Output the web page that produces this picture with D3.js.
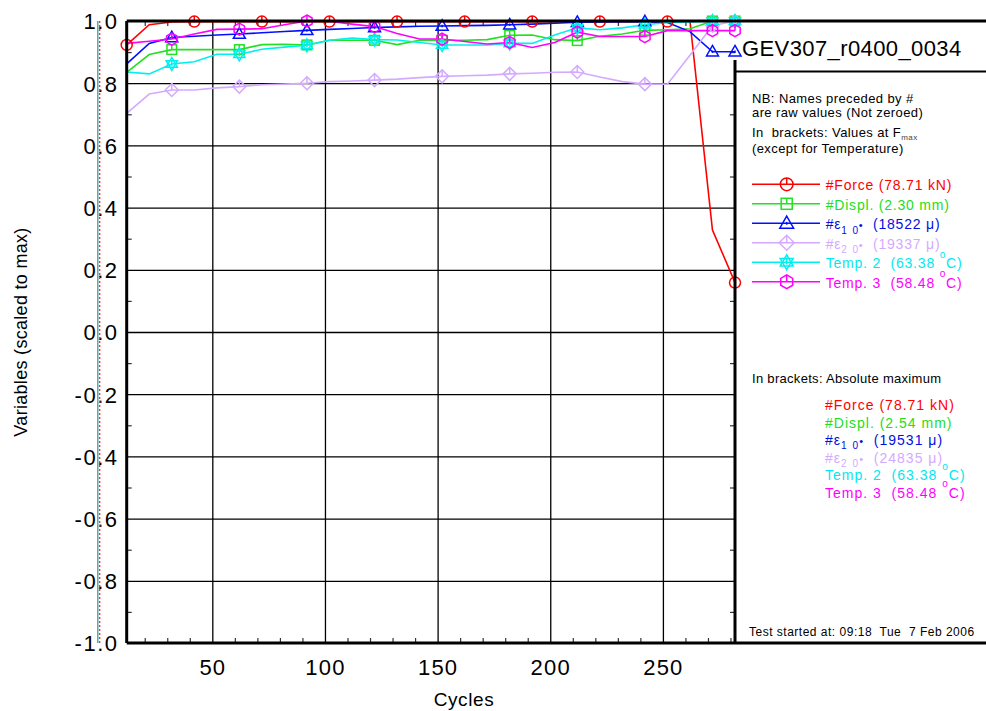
<!DOCTYPE html>
<html>
<head>
<meta charset="utf-8">
<script src="https://cdn.jsdelivr.net/npm/d3@7"></script>
<style>
  html, body { margin: 0; padding: 0; background: #fff; }
  svg { display: block; font-family: "Liberation Sans", Arial, sans-serif; }
  text { white-space: pre; }
</style>
</head>
<body>
<svg id="chart" width="986" height="711"></svg>
<script>
// ---- data: one reading every 10 cycles, each channel scaled to its maximum ----
const cycles  = [12,22,32,42,52,62,72,82,92,102,112,122,132,142,152,162,172,182,192,202,212,222,232,242,252,262,272,282];
const force   = [0.923,0.988,0.997,0.998,0.998,0.998,0.998,0.998,0.998,0.998,0.998,0.998,0.998,0.998,0.998,0.998,0.998,0.998,0.998,0.998,0.998,0.998,0.998,0.998,0.998,1.000,0.328,0.159];
const displ   = [0.835,0.892,0.908,0.908,0.908,0.908,0.924,0.925,0.923,0.938,0.938,0.938,0.924,0.938,0.938,0.938,0.940,0.954,0.955,0.940,0.937,0.951,0.958,0.970,0.972,0.975,1.000,1.000];
const strain1 = [0.862,0.928,0.947,0.951,0.955,0.958,0.962,0.966,0.970,0.973,0.976,0.979,0.981,0.983,0.984,0.985,0.986,0.988,0.990,0.993,0.996,0.997,0.998,0.998,0.995,0.966,0.901,0.901];
const strain2 = [0.703,0.765,0.778,0.778,0.785,0.789,0.795,0.797,0.800,0.805,0.807,0.810,0.813,0.818,0.822,0.824,0.826,0.830,0.832,0.835,0.836,0.820,0.805,0.797,0.797,0.890,0.985,1.000];
const temp2   = [0.836,0.830,0.862,0.869,0.893,0.893,0.909,0.916,0.922,0.938,0.945,0.940,0.939,0.931,0.923,0.923,0.923,0.928,0.928,0.955,0.978,0.972,0.978,0.988,0.995,0.997,1.000,1.000];
const temp3   = [0.928,0.935,0.942,0.958,0.973,0.974,0.975,0.988,1.000,0.999,0.990,0.982,0.960,0.942,0.942,0.934,0.926,0.931,0.915,0.931,0.964,0.950,0.950,0.950,0.969,0.969,0.969,0.969];

// cycles that carry a symbol
const forceMarkCycles = [12,42,72,102,132,162,192,222,252,282];
const otherMarkCycles = [32,62,92,122,152,182,212,242,272,282];

// axis ticks
const xTicks = [50,100,150,200,250];
const yTicks = [-1.0,-0.8,-0.6,-0.4,-0.2,0.0,0.2,0.4,0.6,0.8,1.0];
const xMinorTicks = [20,30,40,60,70,80,90,110,120,130,140,160,170,180,190,210,220,230,240,260,270,280];
const yMinorTicks = [-0.9,-0.7,-0.5,-0.3,-0.1,0.1,0.3,0.5,0.7,0.9];

// reference lines left of the first reading
const zeroCycle = 0;
const startCycle = -0.8;

// legend texts
const testName = "GEV307_r0400_0034";
const noteLines = ["NB: Names preceded by #", "are raw values (Not zeroed)"];
const fmaxNote = "(except for Temperature)";
const absNote = "In brackets: Absolute maximum";
const startedText = "Test started at: 09:18  Tue  7 Feb 2006";

const labelsAtFmax = [
  [{t:"#Force (78.71 kN)"}],
  [{t:"#Displ. (2.30 mm)"}],
  [{t:"#ε"},{t:"1",sub:true},{t:" "},{t:"0",sub:true},{t:"•",dot:true},{t:"  (18522 μ)"}],
  [{t:"#ε"},{t:"2",sub:true},{t:" "},{t:"0",sub:true},{t:"•",dot:true},{t:"  (19337 μ)"}],
  [{t:"Temp. 2  (63.38 "},{t:"o",sup:true},{t:"C)"}],
  [{t:"Temp. 3  (58.48 "},{t:"o",sup:true},{t:"C)"}]
];
const labelsAbsMax = [
  [{t:"#Force (78.71 kN)"}],
  [{t:"#Displ. (2.54 mm)"}],
  [{t:"#ε"},{t:"1",sub:true},{t:" "},{t:"0",sub:true},{t:"•",dot:true},{t:"  (19531 μ)"}],
  [{t:"#ε"},{t:"2",sub:true},{t:" "},{t:"0",sub:true},{t:"•",dot:true},{t:"  (24835 μ)"}],
  [{t:"Temp. 2  (63.38 "},{t:"o",sup:true},{t:"C)"}],
  [{t:"Temp. 3  (58.48 "},{t:"o",sup:true},{t:"C)"}]
];

const series = [
  {values: force,   color: "#ff0000", text: "#ff0000", symbol: "circle",   marks: forceMarkCycles},
  {values: displ,   color: "#22e022", text: "#22dd22", symbol: "square",   marks: otherMarkCycles},
  {values: strain1, color: "#0010ff", text: "#0010e0", symbol: "triangle", marks: otherMarkCycles},
  {values: strain2, color: "#d4aaff", text: "#d4aaff", symbol: "diamond",  marks: otherMarkCycles},
  {values: temp2,   color: "#00f0f0", text: "#00e8f0", symbol: "star",     marks: otherMarkCycles},
  {values: temp3,   color: "#ff00ff", text: "#ff00ff", symbol: "hexagon",  marks: otherMarkCycles}
];

// ---- layout ----
const plot = {left: 126.7, right: 735, top: 21, bottom: 643};
const boxRight = 986;
const svg = d3.select("#chart");

const x = d3.scaleLinear().domain(d3.extent(cycles)).range([plot.left, plot.right]);
const y = d3.scaleLinear().domain([-1, 1]).range([plot.bottom, plot.top]);

// grid lines
svg.append("g")
  .attr("transform", `translate(0,${plot.bottom})`)
  .call(d3.axisBottom(x).tickValues(xTicks).tickSize(-(plot.bottom - plot.top)).tickFormat(""))
  .call(g => g.select(".domain").remove())
  .selectAll("line").attr("stroke", "#000").attr("stroke-width", 1.3);
svg.append("g")
  .attr("transform", `translate(${plot.left},0)`)
  .call(d3.axisLeft(y).tickValues(yTicks.slice(1, -1)).tickSize(-(plot.right - plot.left)).tickFormat(""))
  .call(g => g.select(".domain").remove())
  .selectAll("line").attr("stroke", "#000").attr("stroke-width", 1.3);

// minor ticks on all four sides, pointing inwards
function minor(axis, tx, ty) {
  svg.append("g").attr("transform", `translate(${tx},${ty})`)
    .call(axis.tickSize(-5).tickFormat(""))
    .call(g => g.select(".domain").remove())
    .selectAll("line").attr("stroke", "#333").attr("stroke-width", 1.2);
}
minor(d3.axisBottom(x).tickValues(xMinorTicks), 0, plot.bottom);
minor(d3.axisTop(x).tickValues(xMinorTicks), 0, plot.top);
minor(d3.axisLeft(y).tickValues(yMinorTicks), plot.left, 0);
minor(d3.axisRight(y).tickValues(yMinorTicks), plot.right, 0);

// tick labels
const fmt = d => d.toFixed(1);
svg.append("g").attr("transform", `translate(118.5,0)`)
  .call(d3.axisLeft(y).tickValues(yTicks).tickSize(0).tickPadding(0).tickFormat(fmt))
  .call(g => g.select(".domain").remove())
  .selectAll("text")
  .attr("font-family", '"Liberation Sans", Arial, sans-serif')
  .attr("font-size", 22).attr("letter-spacing", "1.5px").attr("fill", "#000").attr("dy", "0.36em");
svg.append("g").attr("transform", `translate(0,${plot.bottom})`)
  .call(d3.axisBottom(x).tickValues(xTicks).tickSize(0).tickPadding(16.5))
  .call(g => g.select(".domain").remove())
  .selectAll("text")
  .attr("font-family", '"Liberation Sans", Arial, sans-serif')
  .attr("font-size", 22).attr("letter-spacing", "1.2px").attr("fill", "#000");

// reference lines before the first cycle
svg.append("line")
  .attr("x1", x(startCycle)).attr("x2", x(startCycle))
  .attr("y1", plot.top).attr("y2", plot.bottom)
  .attr("stroke", "#008080").attr("stroke-width", 1);
svg.append("line")
  .attr("x1", x(zeroCycle)).attr("x2", x(zeroCycle))
  .attr("y1", plot.top).attr("y2", plot.bottom)
  .attr("stroke", "#ff3030").attr("stroke-width", 1.4).attr("stroke-dasharray", "2,2");

// axis titles
svg.append("text").attr("x", 464).attr("y", 706)
  .attr("text-anchor", "middle").attr("font-size", 19).attr("letter-spacing", "0.6px").text("Cycles");
svg.append("text").attr("transform", "translate(27,332) rotate(-90)")
  .attr("text-anchor", "middle").attr("font-size", 18).attr("letter-spacing", "0.3px")
  .text("Variables (scaled to max)");

// symbol painter
function drawSymbol(g, type, cx, cy, s, color) {
  const k = g.append("g").attr("fill", "none").attr("stroke", color).attr("stroke-width", 1.5);
  const r = 5.5 * s;
  if (type === "circle") {
    k.append("circle").attr("cx", cx).attr("cy", cy).attr("r", r);
    k.append("line").attr("x1", cx).attr("x2", cx).attr("y1", cy - r).attr("y2", cy);
  } else if (type === "square") {
    const h = 4.8 * s;
    k.append("rect").attr("x", cx - h).attr("y", cy - h).attr("width", 2 * h).attr("height", 2 * h);
    k.append("line").attr("x1", cx).attr("x2", cx).attr("y1", cy - h).attr("y2", cy);
  } else if (type === "triangle") {
    const a = 6 * s;
    k.append("path").attr("d", `M${cx},${cy - a * 1.05}L${cx + a},${cy + a * 0.7}L${cx - a},${cy + a * 0.7}Z`);
    k.append("line").attr("x1", cx).attr("x2", cx).attr("y1", cy - a * 0.2).attr("y2", cy + a * 0.2);
  } else if (type === "diamond") {
    const a = 6.5 * s;
    k.append("path").attr("d", `M${cx},${cy - a}L${cx + a},${cy}L${cx},${cy + a}L${cx - a},${cy}Z`);
    k.append("line").attr("x1", cx).attr("x2", cx).attr("y1", cy - a).attr("y2", cy);
  } else if (type === "star") {
    const a = 6.5 * s;
    const tri = off => d3.range(3).map(i => {
      const ang = off + i * 2 * Math.PI / 3;
      return [cx + a * Math.sin(ang), cy - a * Math.cos(ang)];
    });
    k.append("path").attr("d", "M" + tri(0).join("L") + "Z");
    k.append("path").attr("d", "M" + tri(Math.PI).join("L") + "Z");
    k.append("line").attr("x1", cx).attr("x2", cx).attr("y1", cy - a * 0.45).attr("y2", cy + a * 0.3);
  } else if (type === "hexagon") {
    const a = 6 * s;
    const pts = d3.range(6).map(i => {
      const ang = i * Math.PI / 3;
      return [cx + a * Math.sin(ang), cy - a * Math.cos(ang)];
    });
    k.append("path").attr("d", "M" + pts.join("L") + "Z");
    k.append("line").attr("x1", cx).attr("x2", cx).attr("y1", cy - a).attr("y2", cy);
  }
}

// data lines and symbols
const line = d3.line().x((d, i) => x(cycles[i])).y(d => y(d));
const dataLayer = svg.append("g");
series.forEach(s => {
  dataLayer.append("path").datum(s.values)
    .attr("d", line).attr("fill", "none").attr("stroke", s.color).attr("stroke-width", 1.6);
});
series.forEach(s => {
  s.marks.forEach(c => {
    const i = cycles.indexOf(c);
    drawSymbol(dataLayer, s.symbol, x(c), y(s.values[i]), 1, s.color);
  });
});

// frame
const frame = svg.append("g").attr("stroke", "#000").attr("stroke-width", 3);
frame.append("line").attr("x1", plot.left).attr("x2", boxRight).attr("y1", plot.top).attr("y2", plot.top);
frame.append("line").attr("x1", plot.left).attr("x2", boxRight).attr("y1", plot.bottom).attr("y2", plot.bottom);
frame.append("line").attr("x1", plot.left).attr("x2", plot.left).attr("y1", plot.top).attr("y2", plot.bottom);
frame.append("line").attr("x1", plot.right).attr("x2", plot.right).attr("y1", 60).attr("y2", plot.bottom);
frame.append("line").attr("x1", plot.right).attr("x2", boxRight).attr("y1", 71.5).attr("y2", 71.5)
  .attr("stroke-width", 2);

// title of the record
svg.append("text").attr("x", 742).attr("y", 56).attr("font-size", 22).attr("letter-spacing", "0.4px")
  .text(testName);

// rich text helper (subscripts, raised degree sign)
function richText(g, px, py, segs, color, size, ls) {
  const t = g.append("text").attr("x", px).attr("y", py).attr("fill", color)
    .attr("font-size", size).attr("letter-spacing", ls + "px");
  let shift = 0;
  segs.forEach(sg => {
    let target = 0, fs = size;
    if (sg.sub) { target = 0.3 * size; fs = size * 0.72; }
    if (sg.sup) { target = -0.75 * size; fs = size * 0.72; }
    if (sg.dot) { target = 0; fs = size * 0.8; }
    t.append("tspan").attr("dy", target - shift).attr("font-size", fs).text(sg.t);
    shift = target;
  });
  return t;
}

const legend = svg.append("g");
noteLines.forEach((s, i) => {
  legend.append("text").attr("x", 752).attr("y", 102.5 + i * 14).attr("font-size", 13)
    .attr("letter-spacing", "0.4px").text(s);
});
const fm = legend.append("text").attr("x", 752).attr("y", 136.5).attr("font-size", 13).attr("letter-spacing", "0.4px");
fm.append("tspan").text("In  brackets: Values at F");
fm.append("tspan").attr("dy", 3).attr("font-size", 8).attr("fill", "#444").text("max");
legend.append("text").attr("x", 752).attr("y", 153).attr("font-size", 13).attr("letter-spacing", "0.4px").text(fmaxNote);

series.forEach((s, i) => {
  const cy = 184.3 + i * 19.5;
  legend.append("line").attr("x1", 752).attr("x2", 820).attr("y1", cy).attr("y2", cy)
    .attr("stroke", s.color).attr("stroke-width", 1.6);
  drawSymbol(legend, s.symbol, 786.7, cy, 1.15, s.color);
  richText(legend, 825.7, cy + 6, labelsAtFmax[i], s.text, 14, 0.8);
});

legend.append("text").attr("x", 752).attr("y", 382.7).attr("font-size", 13).attr("letter-spacing", "0.3px").text(absNote);
series.forEach((s, i) => {
  richText(legend, 825, 410 + i * 17.5, labelsAbsMax[i], s.text, 14, 1.0);
});

legend.append("text").attr("x", 749).attr("y", 636).attr("font-size", 12).attr("letter-spacing", "0.5px")
  .text(startedText);
</script>
</body>
</html>
